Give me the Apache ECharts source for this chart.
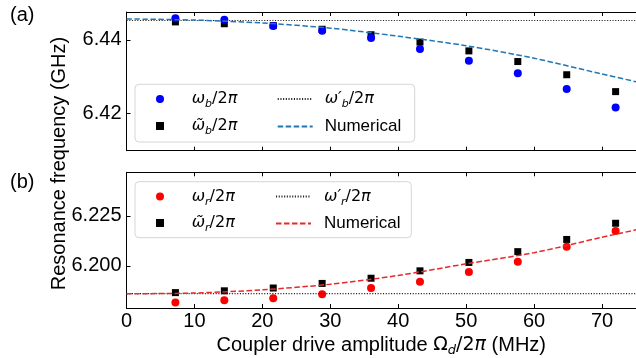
<!DOCTYPE html>
<html>
<head>
<meta charset="utf-8">
<script src="https://cdn.jsdelivr.net/npm/echarts@6/dist/echarts.min.js"></script>
<style>
  html, body { margin: 0; padding: 0; background: #fff; }
  #chart { width: 636px; height: 358px; }
</style>
</head>
<body>
<div id="chart"></div>
<script>
// drive amplitudes (MHz) of the measured points
var xPts = [7.2, 14.4, 21.6, 28.8, 36, 43.2, 50.4, 57.6, 64.8, 72];
// panel (a): b mode
var wb      = [6.4459, 6.4455, 6.4438, 6.4425, 6.4405, 6.4375, 6.4343, 6.4309, 6.4266, 6.4216];
var wbTilde = [6.4449, 6.4444, 6.4439, 6.4429, 6.4414, 6.4394, 6.4370, 6.4341, 6.4305, 6.4259];
var wbPrime = 6.4453;
// panel (b): r mode
var wr      = [6.1817, 6.1828, 6.1838, 6.1858, 6.1889, 6.1920, 6.1969, 6.2021, 6.2095, 6.2174];
var wrTilde = [6.1866, 6.1875, 6.1889, 6.1912, 6.1938, 6.1975, 6.2017, 6.2071, 6.2132, 6.2213];
var wrPrime = 6.1861;
// numerical curves
var numX = [0, 10, 20, 30, 40, 50, 60, 70, 75];
var numB = [6.4457, 6.4454, 6.4446, 6.4432, 6.4410, 6.4384, 6.4350, 6.4307, 6.4286];
var numR = [6.1860, 6.1864, 6.1880, 6.1908, 6.1952, 6.2010, 6.2066, 6.2143, 6.2180];
// ticks
var xTicks = [0, 10, 20, 30, 40, 50, 60, 70];
var yTicksB = [6.42, 6.44];
var yTicksR = [6.200, 6.225];

function pairs(xs, ys) {
    return xs.map(function (x, i) { return [x, ys[i]]; });
}

var FONT = '"Liberation Sans", Arial, sans-serif';
var MATH = '"DejaVu Sans", sans-serif';

var mathRich = {
    i: { fontFamily: MATH, fontStyle: 'italic', fontSize: 16, lineHeight: 22, verticalAlign: 'middle', color: '#000' },
    n: { fontFamily: MATH, fontSize: 16, lineHeight: 22, verticalAlign: 'middle', color: '#000' },
    t: { fontFamily: FONT, fontSize: 17, lineHeight: 22, verticalAlign: 'middle', color: '#000' },
    sub: { fontFamily: MATH, fontStyle: 'italic', fontSize: 11, lineHeight: 11, verticalAlign: 'bottom', color: '#000' }
};

var labels = {
    wb:  '{i|ω}{sub|b}{n|/2}{i|π}',
    wbt: '{i|ω̃}{sub|b}{n|/2}{i|π}',
    wbp: '{i|ω′}{sub|b}{n|/2}{i|π}',
    numb: '{t|Numerical}',
    wr:  '{i|ω}{sub|r}{n|/2}{i|π}',
    wrt: '{i|ω̃}{sub|r}{n|/2}{i|π}',
    wrp: '{i|ω′}{sub|r}{n|/2}{i|π}',
    numr: '{t|Numerical}'
};

var SQUARE = 'path://M0,0L10,0L10,10L0,10Z';
var NOFILL = { color: 'rgba(0,0,0,0)', borderColor: 'rgba(0,0,0,0)', borderWidth: 0 };

function legendCol(names, left, top, itemWidth, gap, padLeft, itemStyle) {
    var lg = {
        orient: 'vertical',
        left: left,
        top: top,
        padding: 0,
        itemGap: gap,
        itemWidth: itemWidth,
        itemHeight: 8,
        selectedMode: false,
        data: names,
        formatter: function (name) { return labels[name]; },
        textStyle: { rich: mathRich, padding: [0, 0, 0, padLeft] }
    };
    if (itemStyle) lg.itemStyle = itemStyle;
    return lg;
}

function xAx(grid, pos, showLabel) {
    return {
        type: 'value', gridIndex: grid, position: pos, min: 0, max: 75,
        axisLine: { show: true, onZero: false, lineStyle: { color: '#000', width: 1 } },
        axisTick: { show: true, inside: true, length: 4, customValues: xTicks, lineStyle: { color: '#000' } },
        axisLabel: { show: showLabel, customValues: xTicks, margin: 3, color: '#000', fontSize: 20, fontFamily: FONT },
        splitLine: { show: false }
    };
}

function yAx(grid, min, max, ticks, digits) {
    return {
        type: 'value', gridIndex: grid, min: min, max: max,
        axisLine: { show: true, onZero: false, lineStyle: { color: '#000', width: 1 } },
        axisTick: { show: true, inside: true, length: 4, customValues: ticks, lineStyle: { color: '#000' } },
        axisLabel: {
            customValues: ticks, margin: 5, color: '#000', fontSize: 20, fontFamily: FONT,
            formatter: function (v) { return v.toFixed(digits); }
        },
        splitLine: { show: false }
    };
}

var bottomX = xAx(1, 'bottom', true);
bottomX.name = 'Coupler drive amplitude {o|Ω}{sub|d}{o|/2}{i|π} (MHz)';
bottomX.nameLocation = 'middle';
bottomX.nameGap = 25;
bottomX.nameTextStyle = {
    color: '#000', fontSize: 20, fontFamily: FONT,
    rich: {
        o: { fontFamily: MATH, fontSize: 19, color: '#000', lineHeight: 24, verticalAlign: 'middle' },
        i: { fontFamily: MATH, fontStyle: 'italic', fontSize: 19, color: '#000', lineHeight: 24, verticalAlign: 'middle' },
        sub: { fontFamily: MATH, fontStyle: 'italic', fontSize: 13, color: '#000', lineHeight: 13, verticalAlign: 'bottom' }
    }
};

var chart = echarts.init(document.getElementById('chart'), null, { renderer: 'canvas' });

var option = {
    animation: false,
    backgroundColor: '#fff',
    grid: [
        { left: 126.5, top: 12, width: 513.5, height: 138.7 },
        { left: 126.5, top: 172.3, width: 513.5, height: 138.4 }
    ],
    xAxis: [
        xAx(0, 'bottom', false),
        xAx(0, 'top', false),
        bottomX,
        xAx(1, 'top', false)
    ],
    yAxis: [
        yAx(0, 6.4098, 6.4476, yTicksB, 2),
        yAx(1, 6.1789, 6.2468, yTicksR, 3)
    ],
    legend: [
        legendCol([{ name: 'wb', icon: 'circle' }, { name: 'wbt', icon: SQUARE }], 156, 91, 8, 8, 22.7),
        legendCol(['wbp', 'numb'], 276.7, 91, 35, 8, 7, NOFILL),
        legendCol([{ name: 'wr', icon: 'circle' }, { name: 'wrt', icon: SQUARE }], 156, 188.6, 8, 7.4, 22.7),
        legendCol(['wrp', 'numr'], 275, 188.6, 35, 7.4, 8, NOFILL)
    ],
    graphic: [
        { type: 'rect', z: 3, shape: { x: 135, y: 84.3, width: 279.7, height: 57.7, r: 4 },
          style: { fill: 'rgba(255,255,255,0.85)', stroke: '#d6d6d6', lineWidth: 1 } },
        { type: 'rect', z: 3, shape: { x: 135, y: 181.7, width: 276.3, height: 56, r: 4 },
          style: { fill: 'rgba(255,255,255,0.85)', stroke: '#d6d6d6', lineWidth: 1 } },
        { type: 'text', x: 10, y: 15.5, style: { text: '(a)', fontSize: 20, fontFamily: FONT, fill: '#000', verticalAlign: 'middle' } },
        { type: 'text', x: 10, y: 182, style: { text: '(b)', fontSize: 20, fontFamily: FONT, fill: '#000', verticalAlign: 'middle' } },
        { type: 'text', x: 59, y: 163.5, rotation: Math.PI / 2,
          style: { text: 'Resonance frequency (GHz)', fontSize: 20, fontFamily: FONT, fill: '#000', align: 'center', verticalAlign: 'middle' } }
    ],
    series: [
        { name: 'wbt', type: 'scatter', xAxisIndex: 0, yAxisIndex: 0, symbol: 'rect', symbolSize: 7,
          itemStyle: { color: '#000', opacity: 1 }, data: pairs(xPts, wbTilde) },
        { name: 'wb', type: 'scatter', xAxisIndex: 0, yAxisIndex: 0, symbol: 'circle', symbolSize: 8,
          itemStyle: { color: '#0000ff', opacity: 1 }, data: pairs(xPts, wb) },
        { name: 'wbp', type: 'line', xAxisIndex: 0, yAxisIndex: 0, symbol: 'none',
          lineStyle: { color: '#222', width: 1.1, type: [1.1, 1.6] }, itemStyle: NOFILL,
          data: [[0, wbPrime], [75, wbPrime]] },
        { name: 'numb', type: 'line', xAxisIndex: 0, yAxisIndex: 0, symbol: 'none', smooth: 0.3,
          lineStyle: { color: '#1f77b4', width: 1.5, type: [5.5, 2.5] }, itemStyle: NOFILL,
          data: pairs(numX, numB) },

        { name: 'wrt', type: 'scatter', xAxisIndex: 2, yAxisIndex: 1, symbol: 'rect', symbolSize: 7,
          itemStyle: { color: '#000', opacity: 1 }, data: pairs(xPts, wrTilde) },
        { name: 'wr', type: 'scatter', xAxisIndex: 2, yAxisIndex: 1, symbol: 'circle', symbolSize: 8,
          itemStyle: { color: '#ff0000', opacity: 1 }, data: pairs(xPts, wr) },
        { name: 'wrp', type: 'line', xAxisIndex: 2, yAxisIndex: 1, symbol: 'none',
          lineStyle: { color: '#222', width: 1.1, type: [1.1, 1.6] }, itemStyle: NOFILL,
          data: [[0, wrPrime], [75, wrPrime]] },
        { name: 'numr', type: 'line', xAxisIndex: 2, yAxisIndex: 1, symbol: 'none', smooth: 0.3,
          lineStyle: { color: '#e8282b', width: 1.5, type: [5.5, 2.5] }, itemStyle: NOFILL,
          data: pairs(numX, numR) }
    ]
};

chart.setOption(option);
</script>
</body>
</html>
